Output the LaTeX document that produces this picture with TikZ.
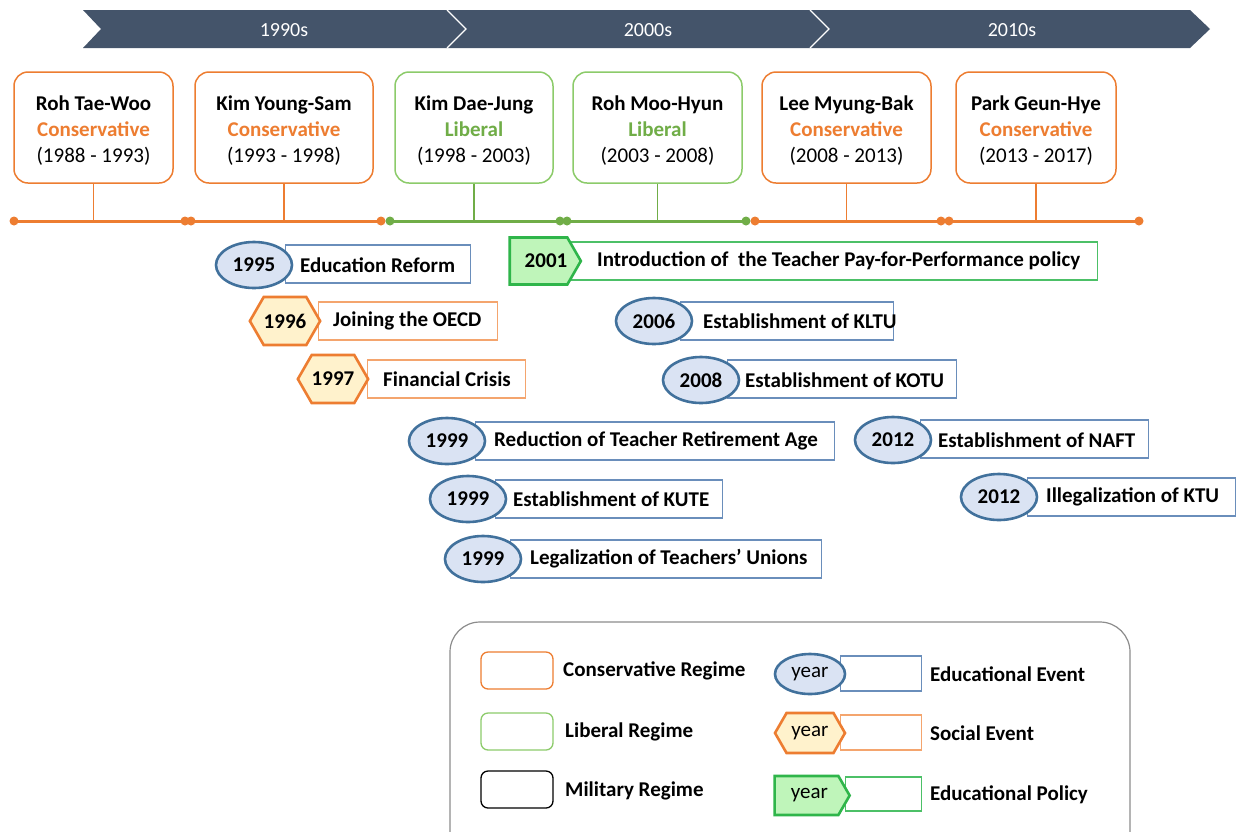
\documentclass[tikz,border=0pt]{standalone}
\usepackage{fontspec}
\setmainfont{Carlito}
\usetikzlibrary{shapes.geometric,shapes.symbols}
\definecolor{bannerc}{HTML}{44546A}
\definecolor{orng}{HTML}{ED7D31}
\definecolor{grn}{HTML}{70AD47}
\definecolor{grnbox}{HTML}{8CCB6A}
\definecolor{eduborder}{HTML}{41719C}
\definecolor{edurectc}{HTML}{6A8EBB}
\definecolor{edufill}{HTML}{DAE3F3}
\definecolor{socfill}{HTML}{FFF2CC}
\definecolor{socrectc}{HTML}{F4A56E}
\definecolor{polborder}{HTML}{2FB54A}
\definecolor{polfill}{HTML}{BFF5BA}
\definecolor{polrectc}{HTML}{4CC067}
\definecolor{legendc}{HTML}{8C8C8C}
\newcommand{\topstrut}{\rule{0pt}{21pt}}
\tikzset{
  fnt/.style={font=\fontsize{21}{26}\selectfont},
  bannertext/.style={font=\fontsize{20}{24}\selectfont, text=white},
  regbox/.style={draw=#1, line width=1.5pt, rounded corners=14pt, fill=white, align=center, fnt, minimum height=111pt, inner sep=0pt},
  stem/.style={draw=#1, line width=1.8pt},
  tline/.style={draw=#1, line width=3pt},
  tdot/.style={fill=#1, draw=none},
  yearfont/.style={font=\bfseries\fontsize{21}{24}\selectfont},
  edu/.style={ellipse, draw=eduborder, fill=edufill, line width=2.6pt, minimum width=76pt, minimum height=46pt, inner sep=0pt, yearfont},
  edurect/.style={draw=edurectc, line width=1.3pt, fill=white, minimum height=38pt, anchor=west, inner sep=0pt},
  soc/.style={signal, signal to=west and east, signal pointer angle=120, draw=orng, fill=socfill, line width=2.6pt, minimum width=70pt, minimum height=48pt, inner sep=0pt, yearfont},
  socrect/.style={draw=socrectc, line width=1.3pt, fill=white, minimum height=38pt, anchor=west, inner sep=0pt},
  pol/.style={signal, signal to=east, signal pointer angle=120, draw=polborder, fill=polfill, line width=2.6pt, minimum width=67pt, minimum height=47pt, inner sep=0pt, yearfont},
  polrect/.style={draw=polrectc, line width=1.3pt, fill=white, minimum height=38pt, anchor=west, inner sep=0pt},
  evtext/.style={anchor=west, inner sep=0pt, font=\bfseries\fontsize{21}{24}\selectfont},
  legbox/.style={draw=#1, line width=1.3pt, rounded corners=7pt, minimum width=72pt, minimum height=37pt, inner sep=0pt},
  legtext/.style={anchor=west, inner sep=0pt, font=\bfseries\fontsize{21}{24}\selectfont},
  yearlab/.style={font=\fontsize{21}{24}\selectfont}
}
\begin{document}
\begin{tikzpicture}[x=1pt,y=-1pt]
\useasboundingbox (0,0) rectangle (1242,831);
\clip (0,0) rectangle (1242,831);
\fill[white] (0,0) rectangle (1242,831);

% banner
\fill[bannerc] (83,10) -- (1190,10) -- (1210,29) -- (1190,48) -- (83,48) -- (101,29) -- cycle;
\draw[white, line width=1.3pt] (447,10) -- (466,29) -- (447,48);
\draw[white, line width=1.3pt] (810,10) -- (829,29) -- (810,48);
\node[bannertext] (d1990) at (284,30) {1990s};
\node[bannertext] (d2000) at (648,30) {2000s};
\node[bannertext] (d2010) at (1012,30) {2010s};

% regime boxes
\node[regbox=orng, minimum width=159pt] (rtw) at (93.5,127.5) {\topstrut\textbf{Roh Tae-Woo}\\\textbf{\color{orng}Conservative}\\(1988 - 1993)};
\node[regbox=orng, minimum width=178pt] (kys) at (284,127.5) {\topstrut\textbf{Kim Young-Sam}\\\textbf{\color{orng}Conservative}\\(1993 - 1998)};
\node[regbox=grnbox, minimum width=158pt] (kdj) at (474,127.5) {\topstrut\textbf{Kim Dae-Jung}\\\textbf{\color{grn}Liberal}\\(1998 - 2003)};
\node[regbox=grnbox, minimum width=169pt] (rmh) at (657.5,127.5) {\topstrut\textbf{Roh Moo-Hyun}\\\textbf{\color{grn}Liberal}\\(2003 - 2008)};
\node[regbox=orng, minimum width=169pt] (lmb) at (846.5,127.5) {\topstrut\textbf{Lee Myung-Bak}\\\textbf{\color{orng}Conservative}\\(2008 - 2013)};
\node[regbox=orng, minimum width=160pt] (pgh) at (1036,127.5) {\topstrut\textbf{Park Geun-Hye}\\\textbf{\color{orng}Conservative}\\(2013 - 2017)};

% timeline
\coordinate (t0) at (14,221);  \coordinate (t1) at (185,221);
\coordinate (t2) at (191,221); \coordinate (t3) at (381,221);
\coordinate (t4) at (390,221); \coordinate (t5) at (560,221);
\coordinate (t6) at (567,221); \coordinate (t7) at (746,221);
\coordinate (t8) at (755,221); \coordinate (t9) at (941,221);
\coordinate (t10) at (949,221); \coordinate (t11) at (1139,221);
\draw[tline=orng] (t0) -- (t1);
\draw[tline=orng] (t2) -- (t3);
\draw[tline=grn] (t4) -- (t5);
\draw[tline=grn] (t6) -- (t7);
\draw[tline=orng] (t8) -- (t9);
\draw[tline=orng] (t10) -- (t11);
\draw[stem=orng] (rtw.south) -- (rtw.south |- t0);
\draw[stem=orng] (kys.south) -- (kys.south |- t0);
\draw[stem=grn] (kdj.south) -- (kdj.south |- t0);
\draw[stem=grn] (rmh.south) -- (rmh.south |- t0);
\draw[stem=orng] (lmb.south) -- (lmb.south |- t0);
\draw[stem=orng] (pgh.south) -- (pgh.south |- t0);
\foreach \p/\c in {t0/orng,t1/orng,t2/orng,t3/orng,t4/grn,t5/grn,t6/grn,t7/grn,t8/orng,t9/orng,t10/orng,t11/orng}
  \fill[tdot=\c] (\p) circle (4.5pt);

% events
\node[edurect, minimum width=185pt] (r1995) at (285,264) {};
\node[edu] (y1995) at (254,265) {1995};
\node[evtext] (x1995) at (300,265) {Education Reform};

\node[socrect, minimum width=179pt] (r1996) at (318,321) {};
\node[soc] (y1996) at (285,321) {1996};
\node[evtext] (x1996) at (333,321) {Joining the OECD};

\node[socrect, minimum width=158pt] (r1997) at (367,379) {};
\node[soc] (y1997) at (333,379) {1997};
\node[evtext] (x1997) at (383,379) {Financial Crisis};

\node[polrect, minimum width=527pt] (r2001) at (570,261) {};
\node[pol] (y2001) at (538.5,261) {\hspace{15pt}2001};
\node[evtext] (x2001) at (597,261) {Introduction of\ \ the Teacher Pay-for-Performance policy};

\node[edurect, minimum width=213pt] (r2006) at (680,321) {};
\node[edu] (y2006) at (654,321) {2006};
\node[evtext] (x2006) at (703,321) {Establishment of KLTU};

\node[edurect, minimum width=229pt] (r2008) at (727,379) {};
\node[edu] (y2008) at (701,380) {2008};
\node[evtext] (x2008) at (745,380) {Establishment of KOTU};

\node[edurect, minimum width=359pt] (r1999a) at (475,441) {};
\node[edu] (y1999a) at (447,441) {1999};
\node[evtext] (x1999a) at (494,441) {Reduction of Teacher Retirement Age};

\node[edurect, minimum width=227pt] (r1999b) at (495,499) {};
\node[edu] (y1999b) at (468,499) {1999};
\node[evtext] (x1999b) at (513,499) {Establishment of KUTE};

\node[edurect, minimum width=311pt] (r1999c) at (510,559) {};
\node[edu] (y1999c) at (483,559) {1999};
\node[evtext] (x1999c) at (530,559) {Legalization of Teachers’ Unions};

\node[edurect, minimum width=228pt] (r2012a) at (920,439) {};
\node[edu] (y2012a) at (893,440) {2012};
\node[evtext] (x2012a) at (938,440) {Establishment of NAFT};

\node[edurect, minimum width=208pt] (r2012b) at (1027,497) {};
\node[edu] (y2012b) at (999,497) {2012};
\node[evtext] (x2012b) at (1046,497) {Illegalization of KTU};

% legend
\draw[draw=legendc, line width=1.2pt, rounded corners=30pt] (450,622) rectangle (1130,870);
\node[legbox=orng] (lc) at (517,670.5) {};
\node[legtext] (lct) at (563,671) {Conservative Regime};
\node[legbox=grnbox] (ll) at (517,731.5) {};
\node[legtext] (llt) at (565,732) {Liberal Regime};
\node[legbox=black] (lm) at (517,789.5) {};
\node[legtext] (lmt) at (565,791) {Military Regime};

\node[edurect, minimum width=81pt, minimum height=35pt] (le) at (840,673.5) {};
\node[edu, minimum width=70pt, minimum height=40pt, yearlab] (ley) at (810,674) {\raisebox{-2pt}{year}};
\node[legtext] (let) at (930,674) {Educational Event};
\node[socrect, minimum width=81pt, minimum height=35pt] (ls) at (840,732.5) {};
\node[soc, minimum width=70pt, minimum height=40pt, yearlab] (lsy) at (810,733) {\raisebox{-2pt}{year}};
\node[legtext] (lst) at (930,733) {Social Event};
\node[polrect, minimum width=76pt, minimum height=34pt] (lp) at (845,794) {};
\node[pol, minimum width=75pt, minimum height=39pt, yearlab] (lpy) at (806.5,795.5) {\hspace{6pt}\raisebox{-2pt}{year}};
\node[legtext] (lpt) at (930,795) {Educational Policy};
\end{tikzpicture}
\end{document}
